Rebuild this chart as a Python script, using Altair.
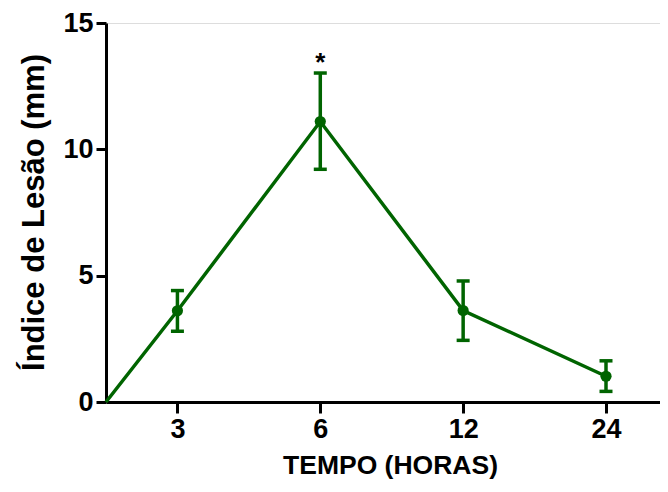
import altair as alt
import pandas as pd

# data
hours = ["0", "3", "6", "12", "24"]
mean = [0.0, 3.61, 11.10, 3.62, 1.02]
upper = [None, 4.41, 13.02, 4.79, 1.63]
lower = [None, 2.80, 9.21, 2.44, 0.42]
marks = ["", "", "*", "", ""]

# category slot on the axis: origin at 0, then every time point centred in its slot
pos = [0.0] + [i - 0.5 for i in range(1, len(hours))]

df = pd.DataFrame({"hora": hours, "pos": pos, "media": mean,
                   "sup": upper, "inf": lower, "sig": marks})
pts = df[df["hora"] != "0"]
sig = df[df["sig"] != ""]

GREEN = "#006400"
FONT = "Liberation Sans"

label_expr = " : ".join(
    f"datum.value == {p} ? '{h}'" for p, h in zip(pos[1:], hours[1:])
) + " : ''"

xscale = alt.Scale(domain=[0, 3.878], nice=False, zero=False)
yscale = alt.Scale(domain=[0, 15], nice=False)

xaxis = alt.Axis(values=pos[1:], labelExpr=label_expr, title="TEMPO (HORAS)",
                 grid=False, domainColor="black", domainWidth=3, tickColor="black",
                 tickWidth=3, tickSize=11, labelFont=FONT, labelFontSize=27,
                 labelFontWeight="bold", labelColor="black", labelPadding=3,
                 titleFont=FONT, titleFontSize=26.5, titleFontWeight="bold",
                 titleColor="black", titleX=284, titleY=71,
                 titleBaseline="alphabetic", titleAnchor="middle")
yaxis = alt.Axis(values=[0, 5, 10, 15], title="Índice de Lesão (mm)", grid=False,
                 domainColor="black", domainWidth=3, tickColor="black", tickWidth=3,
                 tickSize=10, labelFont=FONT, labelFontSize=27, labelFontWeight="bold",
                 labelColor="black", labelPadding=3, titleFont=FONT, titleFontSize=31,
                 titleFontWeight="bold", titleColor="black", titleAngle=-90,
                 titleX=-63, titleY=189, titleBaseline="alphabetic",
                 titleAlign="center")

base = alt.Chart(df)

line = base.mark_line(color=GREEN, strokeWidth=3.5).encode(
    x=alt.X("pos:Q", scale=xscale, axis=xaxis),
    y=alt.Y("media:Q", scale=yscale, axis=yaxis),
    order="pos:Q",
)

err = alt.Chart(pts).mark_rule(color=GREEN, strokeWidth=3.5).encode(
    x=alt.X("pos:Q", scale=xscale), y=alt.Y("inf:Q", scale=yscale), y2="sup:Q")

cap_hi = alt.Chart(pts).mark_tick(color=GREEN, orient="horizontal", size=13,
                                  thickness=3.5, opacity=1).encode(
    x=alt.X("pos:Q", scale=xscale), y=alt.Y("sup:Q", scale=yscale))
cap_lo = alt.Chart(pts).mark_tick(color=GREEN, orient="horizontal", size=13,
                                  thickness=3.5, opacity=1).encode(
    x=alt.X("pos:Q", scale=xscale), y=alt.Y("inf:Q", scale=yscale))

dots = alt.Chart(pts).mark_circle(color=GREEN, size=125, opacity=1).encode(
    x=alt.X("pos:Q", scale=xscale), y=alt.Y("media:Q", scale=yscale))

star = alt.Chart(sig).mark_text(font=FONT, fontSize=26, fontWeight="bold",
                                color="black", baseline="alphabetic", dy=-2).encode(
    x=alt.X("pos:Q", scale=xscale), y=alt.Y("sup:Q", scale=yscale), text="sig:N")

chart = alt.layer(line, err, cap_hi, cap_lo, dots, star).properties(
    width=554, height=379,
    autosize=alt.AutoSizeParams(type="none"),
    padding={"left": 98, "top": 15, "right": 0, "bottom": 77},
).configure_view(stroke=None).configure(background="white")

chart.save("out.html", embed_options={"renderer": "svg", "actions": False})
